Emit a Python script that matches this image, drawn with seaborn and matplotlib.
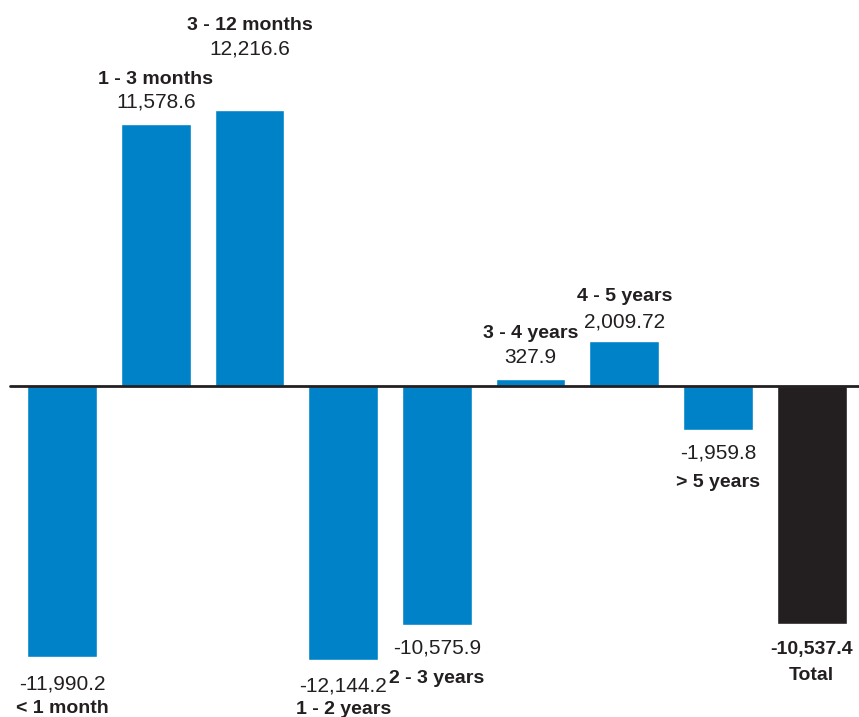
import matplotlib.pyplot as plt
import seaborn as sns
import pandas as pd

categories = ['< 1 month', '1 - 3 months', '3 - 12 months', '1 - 2 years', '2 - 3 years',
              '3 - 4 years', '4 - 5 years', '> 5 years', 'Total']
values = [-11990.2, 11578.6, 12216.6, -12144.2, -10575.9, 327.9, 2009.72, -1959.8, -10537.4]
value_labels = ['-11,990.2', '11,578.6', '12,216.6', '-12,144.2', '-10,575.9',
                '327.9', '2,009.72', '-1,959.8', '-10,537.4']

BLUE = '#0082c8'
DARK = '#231f20'
colors = [BLUE] * 8 + [DARK]

df = pd.DataFrame({'cat': categories, 'val': values})

sns.set_style('white')
plt.rcParams['font.family'] = ['Liberation Sans', 'DejaVu Sans']

fig = plt.figure(figsize=(8.59, 7.17), dpi=100)
ax = fig.add_axes([0, 0, 1, 1])
sns.barplot(data=df, x='cat', y='val', hue='cat', palette=colors, legend=False,
            width=0.745, saturation=1, ax=ax)

ax.set_xlim(-0.662, 8.505)
ax.set_ylim(-14646, 17080)
ax.axis('off')
ax.plot([-0.555, 8.6], [0, 0], color=DARK, lw=2, zorder=5, clip_on=False)

# gap (pixels) between bar end and value text / category text
gaps = [(27, 52), (22, 45), (61, 84), (26, 49), (23, 53), (21, 45), (19, 44), (23, 52), (25, 51)]

for i, (v, lab, cat) in enumerate(zip(values, value_labels, categories)):
    g1, g2 = gaps[i]
    sign = 1 if v > 0 else -1
    bold_val = (cat == 'Total')
    ax.annotate(lab, (i, v), xytext=(0, sign * g1), textcoords='offset pixels',
                ha='center', va='center', fontsize=14 if bold_val else 15, color=DARK,
                fontweight='bold' if bold_val else 'normal')
    ax.annotate(cat, (i, v), xytext=(0, sign * g2), textcoords='offset pixels',
                ha='center', va='center', fontsize=14, color=DARK, fontweight='bold')

fig.savefig('out.png', dpi=100)
